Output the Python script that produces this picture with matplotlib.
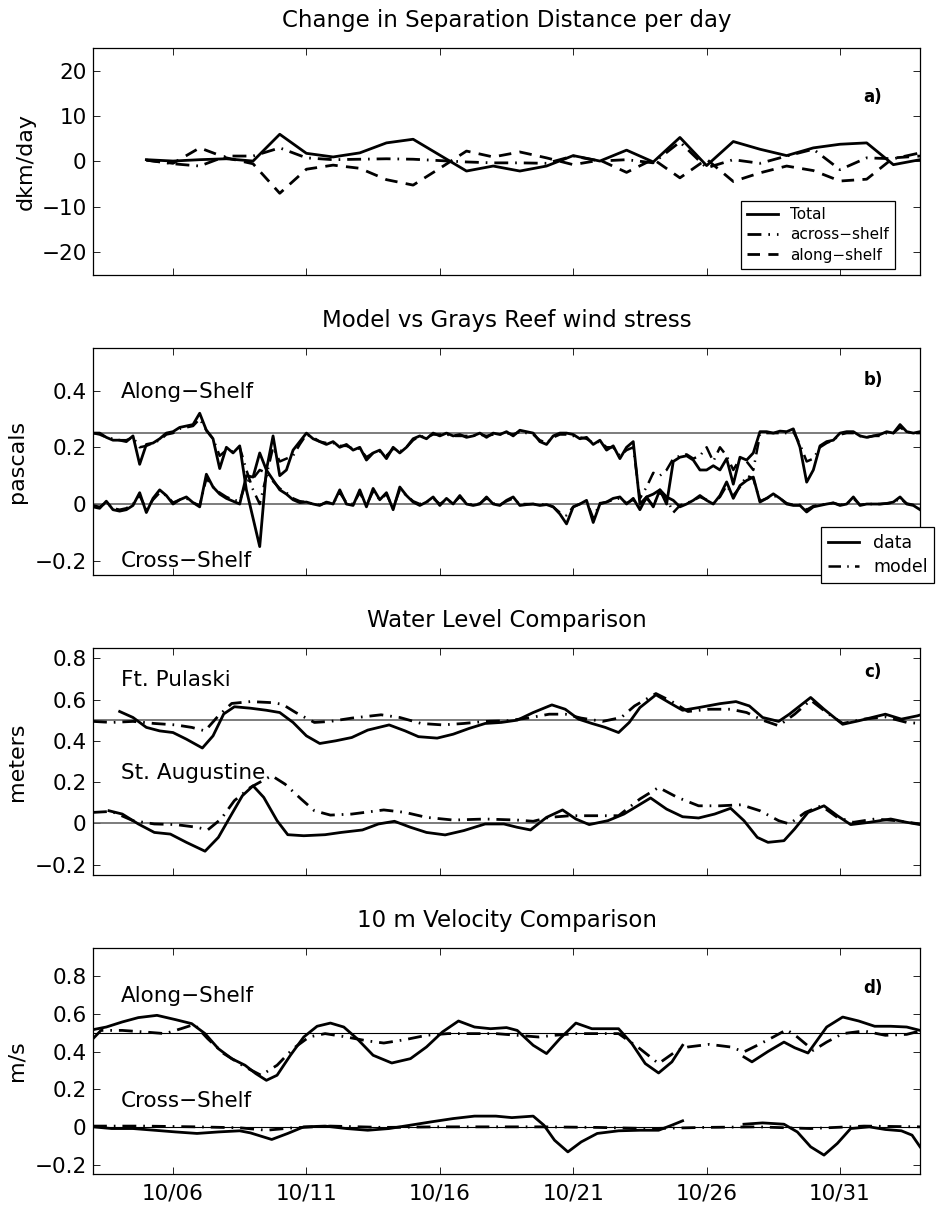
import matplotlib
matplotlib.use('Agg')
import matplotlib.pyplot as plt
import numpy as np

# all times are day of October (10/03 = 3.0)

# a) change in separation distance, daily values
sep_day = list(range(5, 35))
sep_total = [0.4, 0.1, 0.4, 0.6, 0.1, 6.0, 1.8, 1.0, 1.9, 4.1,
             4.9, 1.4, -2.1, -1.0, -2.1, -1.0, 1.3, 0.1, 2.5, -0.1,
             5.3, -0.9, 4.4, 2.7, 1.3, 3.0, 3.8, 4.1, -0.7, 0.4]
sep_across = [0.3, -0.5, -1.0, 1.2, 1.2, 3.0, 0.8, 0.4, 0.5, 0.6,
              0.5, 0.2, -0.1, -0.3, -0.3, -0.4, 1.2, 0.1, 0.4, -0.3,
              4.3, -1.4, 0.4, -0.4, 1.2, 2.7, -1.8, 0.8, 0.6, 1.9]
sep_along = [0.3, -0.4, 3.0, 0.8, -0.5, -7.0, -1.7, -0.8, -1.5, -4.0,
             -5.2, -1.5, 2.3, 1.0, 2.1, 0.8, -0.7, 0.3, -2.4, 0.5,
             -3.6, 0.5, -4.4, -2.5, -1.0, -2.0, -4.3, -3.9, 0.8, 1.2]

# b) wind stress, 6-hourly
stress_day = np.arange(3, 34.01, 0.25)
stress_along_data = [
    0.25, 0.25, 0.235, 0.225, 0.225, 0.22, 0.24, 0.14,
    0.21, 0.215, 0.23, 0.25, 0.255, 0.27, 0.275, 0.28,
    0.32, 0.26, 0.23, 0.125, 0.2, 0.18, 0.205, 0.05,
    -0.05, -0.15, 0.12, 0.24, 0.1, 0.12, 0.19, 0.22,
    0.25, 0.23, 0.22, 0.21, 0.22, 0.2, 0.21, 0.19,
    0.2, 0.155, 0.18, 0.19, 0.16, 0.2, 0.18, 0.2,
    0.23, 0.24, 0.23, 0.25, 0.24, 0.25, 0.24, 0.245,
    0.235, 0.24, 0.25, 0.235, 0.25, 0.245, 0.255, 0.24,
    0.26, 0.255, 0.25, 0.22, 0.21, 0.24, 0.25, 0.25,
    0.245, 0.23, 0.235, 0.21, 0.225, 0.19, 0.205, 0.16,
    0.2, 0.22, 0.0, 0.025, 0.035, 0.05, 0.0, 0.15,
    0.165, 0.17, 0.155, 0.12, 0.12, 0.135, 0.12, 0.16,
    0.07, 0.165, 0.155, 0.18, 0.255, 0.255, 0.25, 0.257,
    0.255, 0.265, 0.2, 0.077, 0.12, 0.205, 0.22, 0.225,
    0.25, 0.255, 0.255, 0.24, 0.235, 0.24, 0.245, 0.255,
    0.25, 0.28, 0.255, 0.25, 0.255]
stress_along_model = [
    0.25, 0.245, 0.235, 0.23, 0.225, 0.225, 0.235, 0.2,
    0.205, 0.215, 0.225, 0.245, 0.25, 0.265, 0.27, 0.275,
    0.3, 0.26, 0.23, 0.17, 0.19, 0.185, 0.2, 0.12,
    0.05, 0.0, 0.1, 0.2, 0.15, 0.16, 0.17, 0.21,
    0.245, 0.235, 0.22, 0.215, 0.215, 0.205, 0.205, 0.195,
    0.195, 0.165, 0.18, 0.185, 0.17, 0.195, 0.185, 0.2,
    0.225, 0.24, 0.235, 0.245, 0.245, 0.245, 0.24, 0.24,
    0.24, 0.24, 0.245, 0.24, 0.245, 0.245, 0.25, 0.245,
    0.255, 0.25, 0.245, 0.225, 0.215, 0.235, 0.245, 0.245,
    0.24, 0.235, 0.23, 0.215, 0.22, 0.2, 0.2, 0.17,
    0.19, 0.2, 0.02, 0.06, 0.11, 0.1, 0.12, 0.16,
    0.17, 0.175, 0.16, 0.17, 0.2, 0.15, 0.2, 0.17,
    0.12, 0.16, 0.15, 0.12, 0.245, 0.25, 0.25, 0.25,
    0.25, 0.255, 0.21, 0.15, 0.16, 0.2, 0.215, 0.225,
    0.245, 0.25, 0.25, 0.24, 0.235, 0.24, 0.24, 0.25,
    0.25, 0.27, 0.255, 0.25, 0.25]
stress_cross_data = [
    -0.01, -0.015, 0.01, -0.02, -0.025, -0.02, -0.005, 0.04,
    -0.03, 0.02, 0.05, 0.03, 0.0, 0.015, 0.025, 0.005,
    -0.01, 0.105, 0.06, 0.035, 0.02, 0.01, 0.0, 0.1,
    0.095, 0.18, 0.12, 0.085, 0.05, 0.035, 0.015, 0.005,
    0.007, 0.0, -0.005, 0.007, 0.0, 0.05, 0.0, -0.005,
    0.05, -0.01, 0.055, 0.015, 0.04, -0.02, 0.06, 0.03,
    0.007, -0.005, 0.007, 0.025, -0.005, 0.02, 0.0, 0.03,
    0.0, -0.005, 0.0, 0.025, 0.0, -0.005, 0.013, 0.025,
    -0.005, -0.002, 0.0, -0.005, -0.002, -0.01, -0.035, -0.07,
    -0.01, 0.0, 0.013, -0.065, 0.0, 0.007, 0.02, 0.025,
    0.0, 0.02, -0.02, 0.025, -0.01, 0.05, 0.025, 0.013,
    -0.01, 0.0, 0.013, 0.03, 0.013, 0.0, 0.03, 0.078,
    0.02, 0.065, 0.083, 0.095, 0.007, 0.02, 0.036, 0.02,
    0.0, -0.005, -0.005, -0.028, -0.01, -0.005, 0.0, 0.004,
    -0.005, 0.0, 0.025, -0.005, 0.0, 0.0, 0.0, 0.002,
    0.007, 0.025, 0.0, -0.005, -0.02]
stress_cross_model = [
    -0.005, -0.01, 0.005, -0.015, -0.02, -0.015, 0.0, 0.03,
    -0.02, 0.015, 0.04, 0.03, 0.005, 0.015, 0.02, 0.005,
    -0.005, 0.09, 0.06, 0.04, 0.025, 0.015, 0.01, 0.08,
    0.09, 0.12, 0.11, 0.08, 0.055, 0.04, 0.02, 0.01,
    0.007, 0.0, -0.003, 0.005, 0.002, 0.04, 0.005, 0.0,
    0.04, -0.005, 0.045, 0.015, 0.035, -0.015, 0.05, 0.03,
    0.01, 0.0, 0.007, 0.02, 0.0, 0.015, 0.003, 0.025,
    0.003, -0.003, 0.002, 0.02, 0.003, -0.003, 0.01, 0.02,
    0.0, 0.0, 0.0, -0.003, 0.0, -0.01, -0.03, -0.04,
    -0.01, 0.0, 0.01, -0.05, 0.003, 0.007, 0.015, 0.02,
    0.003, 0.015, -0.01, 0.02, -0.005, 0.04, 0.02, -0.03,
    -0.005, 0.003, 0.013, 0.025, 0.015, 0.003, 0.025, 0.065,
    0.03, 0.06, 0.1, 0.09, 0.01, 0.02, 0.03, 0.02,
    0.003, -0.003, -0.003, -0.02, -0.007, -0.003, 0.0, 0.004,
    -0.003, 0.0, 0.02, -0.003, 0.0, 0.0, 0.0, 0.002,
    0.005, 0.02, 0.002, -0.003, -0.015]

# c) water level
fp_data_day = [4.0, 4.5, 5.0, 5.5, 6.0, 6.5, 7.1, 7.5, 7.9, 8.3, 8.9, 9.5, 10.0, 10.5,
               11.0, 11.5, 12.1, 12.7, 13.3, 14.1, 14.7, 15.2, 15.9, 16.5, 17.1, 17.7,
               18.3, 18.9, 19.5, 20.2, 20.7, 21.2, 21.7, 22.2, 22.7, 23.1, 23.5, 24.1,
               24.6, 25.1, 25.7, 26.5, 27.1, 27.6, 28.1, 28.7, 29.1, 29.9, 30.4, 31.1,
               31.7, 32.7, 33.3, 33.9, 34.0]
fp_data = [0.542, 0.513, 0.465, 0.448, 0.44, 0.408, 0.365, 0.424, 0.53, 0.565, 0.558,
           0.548, 0.537, 0.489, 0.424, 0.387, 0.4, 0.416, 0.452, 0.477, 0.448, 0.42,
           0.413, 0.432, 0.46, 0.484, 0.489, 0.5, 0.537, 0.574, 0.553, 0.505, 0.484,
           0.465, 0.44, 0.489, 0.561, 0.623, 0.585, 0.548, 0.561, 0.58, 0.59, 0.569,
           0.513, 0.494, 0.529, 0.61, 0.553, 0.48, 0.497, 0.529, 0.505, 0.521, 0.525]
fp_model_day = [3.0, 3.7, 4.5, 5.3, 6.1, 6.7, 7.2, 7.7, 8.2, 8.9, 9.7, 10.1, 10.6, 11.3,
                11.9, 12.7, 13.8, 14.5, 15.3, 16.1, 16.9, 17.7, 18.5, 19.3, 20.1, 20.7,
                21.3, 22.1, 22.8, 23.3, 24.1, 24.7, 25.3, 26.1, 26.9, 27.5, 28.1, 28.7,
                29.3, 29.9, 30.5, 31.1, 31.9, 32.7, 33.5, 34.0]
fp_model = [0.494, 0.489, 0.494, 0.484, 0.477, 0.465, 0.448, 0.521, 0.581, 0.59, 0.585,
            0.577, 0.537, 0.489, 0.494, 0.51, 0.526, 0.513, 0.484, 0.477, 0.484, 0.494,
            0.497, 0.51, 0.529, 0.529, 0.51, 0.494, 0.513, 0.569, 0.629, 0.59, 0.542,
            0.553, 0.553, 0.537, 0.5, 0.473, 0.529, 0.597, 0.537, 0.484, 0.505, 0.516,
            0.489, 0.484]
sa_data_day = [3.6, 4.1, 4.7, 5.3, 5.9, 6.5, 7.2, 7.7, 8.2, 8.6, 9.0, 9.4, 9.9, 10.3,
               10.9, 11.7, 12.3, 13.1, 13.7, 14.3, 14.9, 15.5, 16.2, 16.9, 17.7, 18.4,
               18.9, 19.4, 20.0, 20.6, 21.1, 21.6, 22.3, 22.9, 23.9, 24.5, 25.1, 25.7,
               26.3, 26.9, 27.4, 27.9, 28.3, 28.9, 29.3, 29.8, 30.4, 30.9, 31.4, 32.1,
               32.9, 33.5, 34.0]
sa_data = [0.061, 0.045, -0.003, -0.044, -0.052, -0.092, -0.135, -0.068, 0.045, 0.134,
           0.182, 0.126, 0.013, -0.055, -0.06, -0.055, -0.044, -0.032, -0.003, 0.01,
           -0.019, -0.044, -0.056, -0.035, -0.003, -0.003, -0.019, -0.032, 0.029, 0.065,
           0.021, -0.006, 0.013, 0.045, 0.123, 0.069, 0.032, 0.026, 0.045, 0.073, 0.013,
           -0.068, -0.092, -0.084, -0.027, 0.053, 0.085, 0.037, -0.006, 0.005, 0.021,
           0.005, -0.006]
sa_model_day = [3.0, 3.7, 4.5, 5.3, 6.1, 6.9, 7.3, 7.8, 8.3, 8.9, 9.7, 10.2, 10.8, 11.3,
                11.9, 12.7, 13.9, 14.7, 15.5, 16.5, 17.7, 18.9, 19.5, 20.1, 20.9, 21.9,
                22.7, 23.5, 24.2, 24.9, 25.7, 26.5, 27.3, 28.0, 28.7, 29.1, 29.7, 30.3,
                30.9, 31.5, 32.3, 33.1, 34.0]
sa_model = [0.053, 0.058, 0.013, -0.003, -0.006, -0.019, -0.032, 0.021, 0.11, 0.174,
            0.231, 0.19, 0.118, 0.061, 0.04, 0.045, 0.065, 0.053, 0.029, 0.016, 0.021,
            0.016, 0.01, 0.029, 0.037, 0.037, 0.037, 0.118, 0.174, 0.126, 0.085, 0.085,
            0.09, 0.061, 0.013, -0.003, 0.053, 0.085, 0.029, 0.005, 0.021, 0.013, -0.003]

# d) 10 m velocity (nan = gap in the record)
vel_along_day = [3.0, 3.5, 4.1, 4.7, 5.4, 6.1, 6.7, 7.2, 7.7, 8.2, 8.7, 9.1, 9.5, 9.9,
                 10.4, 10.9, 11.4, 11.9, 12.4, 12.9, 13.5, 14.2, 14.9, 15.5, 16.1, 16.7,
                 17.3, 17.9, 18.5, 18.9, 19.5, 20.0, 20.5, 21.1, 21.7, 22.2, 22.7, 23.2,
                 23.7, 24.2, 24.7, 25.1, 26.0, 27.4, 27.7, 28.3, 28.9, 29.3, 29.8, 30.5,
                 31.1, 31.7, 32.3, 32.9, 33.5, 34.0]
vel_along = [0.516, 0.53, 0.557, 0.58, 0.592, 0.569, 0.548, 0.495, 0.415, 0.362, 0.327,
             0.283, 0.247, 0.274, 0.38, 0.477, 0.534, 0.551, 0.53, 0.468, 0.38, 0.339,
             0.362, 0.424, 0.504, 0.562, 0.53, 0.521, 0.527, 0.512, 0.433, 0.389, 0.468,
             0.551, 0.521, 0.521, 0.521, 0.442, 0.336, 0.286, 0.345, 0.433, np.nan,
             0.371, 0.345, 0.40, 0.45, 0.42, 0.392, 0.53, 0.583, 0.562, 0.534, 0.534,
             0.53, 0.512]
vel_along_model_day = [3.0, 3.3, 4.1, 4.9, 5.7, 6.3, 6.8, 7.3, 7.9, 8.7, 9.3, 9.9, 10.5,
                       11.1, 11.7, 12.5, 13.3, 13.9, 14.7, 15.5, 16.3, 17.3, 18.1, 18.9,
                       19.7, 20.3, 21.1, 22.1, 22.7, 23.5, 24.2, 24.9, 25.3, 26.1, 26.9,
                       27.4, 27.9, 28.5, 29.0, 29.4, 30.0, 30.5, 31.1, 31.9, 32.7, 33.5, 34.0]
vel_along_model = [0.468, 0.512, 0.512, 0.504, 0.495, 0.521, 0.544, 0.468, 0.389, 0.318,
                   0.274, 0.327, 0.415, 0.477, 0.495, 0.477, 0.456, 0.445, 0.463, 0.486,
                   0.495, 0.495, 0.495, 0.486, 0.477, 0.486, 0.495, 0.495, 0.495, 0.415,
                   0.336, 0.406, 0.424, 0.438, 0.424, 0.398, 0.433, 0.477, 0.516, 0.477,
                   0.406, 0.45, 0.495, 0.509, 0.486, 0.491, 0.509]
vel_cross_day = [3.0, 3.7, 4.5, 5.3, 6.1, 6.9, 7.7, 8.5, 8.9, 9.7, 10.3, 10.9, 11.7, 12.5,
                 13.3, 14.1, 14.9, 15.7, 16.5, 17.3, 18.1, 18.7, 19.5, 19.9, 20.3, 20.8,
                 21.3, 21.9, 22.7, 23.5, 24.2, 24.7, 25.1, 26.0, 27.4, 28.1, 28.9, 29.4,
                 29.9, 30.4, 30.9, 31.4, 32.1, 32.7, 33.3, 33.7, 34.0]
vel_cross = [0.0, -0.009, -0.009, -0.018, -0.027, -0.035, -0.027, -0.021, -0.032, -0.067,
             -0.035, 0.0, 0.004, -0.009, -0.018, -0.009, 0.009, 0.027, 0.044, 0.057,
             0.057, 0.049, 0.057, 0.009, -0.071, -0.133, -0.08, -0.035, -0.021, -0.018,
             -0.018, 0.009, 0.032, np.nan, 0.014, 0.021, 0.014, -0.027, -0.106, -0.15,
             -0.088, -0.009, 0.0, -0.014, -0.021, -0.044, -0.106]
vel_cross_model_day = [3.0, 4.9, 6.9, 8.5, 9.5, 10.5, 11.9, 13.9, 15.9, 17.9, 19.9, 21.9,
                       23.9, 25.9, 27.9, 29.9, 31.9, 34.0]
vel_cross_model = [0.004, 0.004, 0.0, -0.005, -0.018, -0.005, 0.004, -0.003, 0.0, 0.0,
                   0.0, -0.003, -0.009, -0.003, 0.0, -0.009, 0.004, 0.0]

tick_days = [6, 11, 16, 21, 26, 31]
tick_names = ['10/06', '10/11', '10/16', '10/21', '10/26', '10/31']

DASH = (4.5, 3)
DASHDOT = (5, 2.5, 0.6, 2.5)

fig = plt.figure(figsize=(9.42, 12.12), dpi=100)
ax_a = fig.add_axes([0.0987, 0.7731, 0.878, 0.1873])
ax_b = fig.add_axes([0.0987, 0.5256, 0.878, 0.1873])
ax_c = fig.add_axes([0.0987, 0.2781, 0.878, 0.1873])
ax_d = fig.add_axes([0.0987, 0.0314, 0.878, 0.1865])


def setup(ax, title, ylabel, ylim, yticks, ylabels, letter, letter_y, label_x):
    ax.set_xlim(3, 34)
    ax.set_ylim(ylim)
    ax.set_xticks(tick_days)
    ax.set_xticklabels([])
    ax.set_yticks(yticks)
    ax.set_yticklabels(ylabels)
    ax.tick_params(direction='in', length=5, width=0.6, top=True, right=True,
                   labelsize=15.5)
    ax.tick_params(axis='y', pad=4.5)
    ax.tick_params(axis='x', pad=7)
    for s in ax.spines.values():
        s.set_linewidth(0.9)
    ax.set_title(title, fontsize=16.5, pad=15)
    ax.set_ylabel(ylabel, fontsize=16)
    ax.yaxis.set_label_coords(label_x, 0.5)
    ax.text(0.943, letter_y, letter, transform=ax.transAxes, fontsize=12,
            fontweight='bold', ha='center', va='center')


# PANEL A
setup(ax_a, 'Change in Separation Distance per day', 'dkm/day', (-25, 25),
      [-20, -10, 0, 10, 20], ['\u221220', '\u221210', '0', '10', '20'], 'a)', 0.784, -0.069)
ax_a.plot(sep_day, sep_total, 'k-', lw=2, label='Total')
ax_a.plot(sep_day, sep_across, 'k', lw=2, dashes=DASHDOT, label='across\u2212shelf')
ax_a.plot(sep_day, sep_along, 'k', lw=2, dashes=DASH, label='along\u2212shelf')
leg = ax_a.legend(loc='upper left', bbox_to_anchor=(0.7836, 0.327), borderaxespad=0,
                  fancybox=False, edgecolor='k', framealpha=1, fontsize=11,
                  handlelength=2.0, labelspacing=0.35)
leg.get_frame().set_linewidth(0.9)

# PANEL B
setup(ax_b, 'Model vs Grays Reef wind stress', 'pascals', (-0.25, 0.55),
      [-0.2, 0, 0.2, 0.4], ['\u22120.2', '0', '0.2', '0.4'], 'b)', 0.859, -0.080)
ax_b.axhline(0, color='0.4', lw=1.2)
ax_b.axhline(0.25, color='0.4', lw=1.2)
ax_b.plot(stress_day, stress_along_model, 'k', lw=1.8, dashes=DASHDOT)
ax_b.plot(stress_day, stress_cross_model, 'k', lw=1.8, dashes=DASHDOT, label='model')
ax_b.plot(stress_day, stress_along_data, 'k-', lw=2)
ax_b.plot(stress_day, stress_cross_data, 'k-', lw=2, label='data')
ax_b.text(4.05, 0.395, 'Along\u2212Shelf', fontsize=15.5, va='center')
ax_b.text(4.05, -0.2, 'Cross\u2212Shelf', fontsize=15.5, va='center')
h, l = ax_b.get_legend_handles_labels()
leg = ax_b.legend(h[::-1], l[::-1], loc='upper left', bbox_to_anchor=(0.880, 0.211),
                  borderaxespad=0, fancybox=False, edgecolor='k', framealpha=1,
                  fontsize=12.5, handlelength=1.8, labelspacing=0.35)
leg.get_frame().set_linewidth(0.9)
leg.set_clip_on(False)

# PANEL C
setup(ax_c, 'Water Level Comparison', 'meters', (-0.25, 0.85),
      [-0.2, 0, 0.2, 0.4, 0.6, 0.8], ['\u22120.2', '0', '0.2', '0.4', '0.6', '0.8'],
      'c)', 0.894, -0.080)
ax_c.axhline(0, color='0.4', lw=1.2)
ax_c.axhline(0.5, color='0.4', lw=1.2)
ax_c.plot(fp_model_day, fp_model, 'k', lw=2, dashes=DASHDOT)
ax_c.plot(sa_model_day, sa_model, 'k', lw=2, dashes=DASHDOT)
ax_c.plot(fp_data_day, fp_data, 'k-', lw=2)
ax_c.plot(sa_data_day, sa_data, 'k-', lw=2)
ax_c.text(4.05, 0.694, 'Ft. Pulaski', fontsize=15.5, va='center')
ax_c.text(4.05, 0.243, 'St. Augustine', fontsize=15.5, va='center')

# PANEL D
setup(ax_d, '10 m Velocity Comparison', 'm/s', (-0.25, 0.95),
      [-0.2, 0, 0.2, 0.4, 0.6, 0.8], ['\u22120.2', '0', '0.2', '0.4', '0.6', '0.8'],
      'd)', 0.823, -0.080)
ax_d.axhline(0, color='k', lw=0.8)
ax_d.axhline(0.5, color='k', lw=0.8)
ax_d.plot(vel_along_model_day, vel_along_model, 'k', lw=2, dashes=DASHDOT)
ax_d.plot(vel_cross_model_day, vel_cross_model, 'k', lw=2, dashes=DASHDOT)
ax_d.plot(vel_along_day, vel_along, 'k-', lw=2)
ax_d.plot(vel_cross_day, vel_cross, 'k-', lw=2)
ax_d.text(4.05, 0.695, 'Along\u2212Shelf', fontsize=15.5, va='center')
ax_d.text(4.05, 0.138, 'Cross\u2212Shelf', fontsize=15.5, va='center')
ax_d.set_xticklabels(tick_names)

fig.savefig('out.png', dpi=100)
